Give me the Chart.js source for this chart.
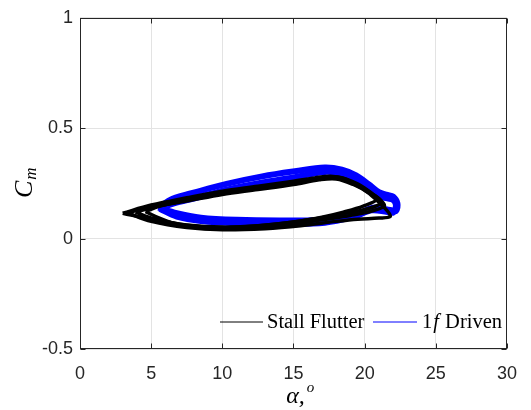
<!DOCTYPE html>
<html>
<head>
<meta charset="utf-8">
<script src="https://cdn.jsdelivr.net/npm/chart.js@4"></script>
<style>
  html, body { margin: 0; padding: 0; background: #fff; }
  #wrap { width: 531px; height: 410px; }
</style>
</head>
<body>
<div id="wrap"><canvas id="cmLoops"></canvas></div>
<script>
// angle of attack (deg) vs. moment coefficient, several overlaid cycles per case
const flutterAlphaA = [3.0, 5.0, 7.5, 10.0, 12.5, 15.0, 16.5, 17.6, 18.6, 19.5, 20.3, 20.9, 19.9, 18.5, 17.0, 15.0, 12.5, 10.0, 7.5, 5.0, 3.0];
const flutterCmA    = [0.115, 0.152, 0.185, 0.215, 0.237, 0.26, 0.275, 0.282, 0.27, 0.24, 0.208, 0.18, 0.147, 0.12, 0.097, 0.075, 0.058, 0.052, 0.062, 0.088, 0.115];
const flutterAlphaB = [3.3, 5.0, 7.5, 10.0, 12.5, 15.0, 16.8, 18.0, 19.2, 20.2, 21.0, 21.6, 21.8, 21.0, 19.5, 18.0, 15.5, 13.0, 10.0, 7.5, 5.0, 3.3];
const flutterCmB    = [0.117, 0.142, 0.17, 0.2, 0.222, 0.245, 0.266, 0.27, 0.245, 0.21, 0.165, 0.125, 0.1, 0.093, 0.088, 0.078, 0.058, 0.045, 0.04, 0.05, 0.078, 0.117];
const flutterAlphaC = [4.6, 5.5, 7.5, 10.0, 12.5, 15.0, 16.6, 17.8, 19.0, 20.0, 20.8, 21.4, 20.5, 19.0, 17.0, 14.5, 12.0, 9.5, 7.0, 5.5, 4.6];
const flutterCmC    = [0.122, 0.145, 0.176, 0.207, 0.23, 0.252, 0.27, 0.276, 0.258, 0.225, 0.19, 0.15, 0.125, 0.105, 0.085, 0.062, 0.048, 0.044, 0.062, 0.095, 0.122];
const flutterAlphaD = [3.9, 5.0, 7.0, 10.0, 12.5, 15.0, 16.8, 18.2, 19.5, 20.5, 21.2, 20.2, 18.5, 16.0, 13.0, 10.0, 7.5, 5.2, 3.9];
const flutterCmD    = [0.12, 0.14, 0.168, 0.208, 0.23, 0.25, 0.272, 0.278, 0.248, 0.205, 0.165, 0.135, 0.112, 0.085, 0.06, 0.05, 0.06, 0.09, 0.12];

const drivenAlphaA = [5.5, 6.5, 8.2, 10.3, 12.8, 15.1, 17.2, 18.4, 19.4, 20.3, 21.0, 21.6, 22.0, 22.3, 22.2, 21.8, 20.6, 19.4, 17.2, 14.0, 11.0, 8.5, 6.8, 5.5];
const drivenCmA    = [0.14, 0.18, 0.212, 0.248, 0.282, 0.305, 0.322, 0.312, 0.286, 0.245, 0.21, 0.198, 0.19, 0.16, 0.125, 0.13, 0.14, 0.11, 0.085, 0.082, 0.085, 0.095, 0.115, 0.14];
const drivenAlphaB = [5.6, 6.6, 8.2, 10.3, 12.8, 15.1, 17.2, 18.4, 19.4, 20.3, 21.0, 21.6, 22.0, 22.2, 22.0, 21.6, 20.5, 19.3, 17.2, 14.0, 11.0, 8.5, 6.8, 5.6];
const drivenCmB    = [0.135, 0.16, 0.185, 0.222, 0.254, 0.278, 0.302, 0.292, 0.264, 0.222, 0.19, 0.182, 0.175, 0.15, 0.118, 0.12, 0.128, 0.1, 0.072, 0.068, 0.07, 0.08, 0.1, 0.135];

const xTicks = [0, 5, 10, 15, 20, 25, 30];
const yTicks = [-0.5, 0, 0.5, 1];

const toPoints = (xs, ys) => xs.map((x, i) => ({ x: x, y: ys[i] }));

const AXIS = '#262626';
const GRID = '#e3e3e3';

// box, inward ticks, legend and axis titles drawn on top
const decorations = {
  id: 'decorations',
  afterDraw(chart) {
    const { ctx, chartArea: a, scales } = chart;
    ctx.save();
    ctx.strokeStyle = AXIS;
    ctx.lineWidth = 1;
    const L = Math.round(a.left) + 0.5, R = Math.round(a.right) - 0.5;
    const T = Math.round(a.top) + 0.5, B = Math.round(a.bottom) - 0.5;
    ctx.strokeRect(L, T, R - L, B - T);
    ctx.beginPath();
    xTicks.forEach(v => {
      const px = Math.round(scales.x.getPixelForValue(v)) + 0.5;
      ctx.moveTo(px, B); ctx.lineTo(px, B - 5);
      ctx.moveTo(px, T); ctx.lineTo(px, T + 5);
    });
    yTicks.forEach(v => {
      const py = Math.round(scales.y.getPixelForValue(v)) + 0.5;
      ctx.moveTo(L, py); ctx.lineTo(L + 5, py);
      ctx.moveTo(R, py); ctx.lineTo(R - 5, py);
    });
    ctx.stroke();

    // legend
    const ly = a.bottom - 27;
    ctx.lineWidth = 1;
    ctx.strokeStyle = '#000';
    ctx.beginPath(); ctx.moveTo(220, ly); ctx.lineTo(263, ly); ctx.stroke();
    ctx.strokeStyle = '#0000ff';
    ctx.beginPath(); ctx.moveTo(373, ly); ctx.lineTo(417, ly); ctx.stroke();
    ctx.fillStyle = '#000';
    ctx.textBaseline = 'alphabetic';
    ctx.textAlign = 'left';
    ctx.font = '20.5px "Liberation Serif"';
    ctx.fillText('Stall Flutter', 267, ly + 6);
    let tx = 422;
    ctx.fillText('1', tx, ly + 6);
    tx += ctx.measureText('1').width + 1;
    ctx.font = 'italic 20.5px "Liberation Serif"';
    ctx.fillText('f', tx, ly + 6);
    tx += ctx.measureText('f').width + 1;
    ctx.font = '20.5px "Liberation Serif"';
    ctx.fillText(' Driven', tx, ly + 6);

    // x title
    const cx = (a.left + a.right) / 2;
    ctx.font = 'italic 24px "Liberation Serif"';
    const w1 = ctx.measureText('α,').width;
    ctx.fillText('α,', cx - w1 / 2 + 2, 403);
    ctx.font = 'italic 15px "Liberation Serif"';
    ctx.fillText('o', cx + w1 / 2 + 4, 392);

    // y title
    ctx.translate(24, (a.top + a.bottom) / 2);
    ctx.rotate(-Math.PI / 2);
    ctx.font = 'italic 26px "Liberation Serif"';
    const wc = ctx.measureText('C').width;
    ctx.fillText('C', -wc / 2 - 6, 8);
    ctx.font = 'italic 17px "Liberation Serif"';
    ctx.fillText('m', wc / 2 - 5, 12);
    ctx.restore();
  }
};

const blackLine = { borderColor: '#000', borderWidth: 3.5 };
const blueLine = { borderColor: '#0000ff', borderWidth: 6 };

new Chart(document.getElementById('cmLoops'), {
  type: 'scatter',
  data: {
    datasets: [
      Object.assign({ label: 'Stall Flutter', data: toPoints(flutterAlphaA, flutterCmA) }, blackLine),
      Object.assign({ label: 'Stall Flutter', data: toPoints(flutterAlphaB, flutterCmB) }, blackLine),
      Object.assign({ label: 'Stall Flutter', data: toPoints(flutterAlphaC, flutterCmC) }, blackLine),
      Object.assign({ label: 'Stall Flutter', data: toPoints(flutterAlphaD, flutterCmD) }, blackLine),
      Object.assign({ label: '1f Driven', data: toPoints(drivenAlphaA, drivenCmA) }, blueLine),
      Object.assign({ label: '1f Driven', data: toPoints(drivenAlphaB, drivenCmB) }, blueLine)
    ].map(d => Object.assign(d, { showLine: true, pointRadius: 0, tension: 0.35, fill: false }))
  },
  options: {
    responsive: true,
    maintainAspectRatio: false,
    animation: false,
    layout: { padding: { left: 0, right: 14, top: 13, bottom: 0 } },
    plugins: { legend: { display: false }, tooltip: { enabled: false } },
    scales: {
      x: {
        min: 0, max: 30,
        afterFit: s => { s.height = 61; },
        afterBuildTicks: s => { s.ticks = xTicks.map(v => ({ value: v })); },
        grid: { color: GRID, drawTicks: false },
        border: { display: false },
        ticks: { padding: 14, color: AXIS, font: { family: 'Liberation Sans', size: 18 } }
      },
      y: {
        min: -0.5, max: 1,
        afterFit: s => { s.width = 80; },
        afterBuildTicks: s => { s.ticks = yTicks.map(v => ({ value: v })); },
        grid: { color: GRID, drawTicks: false },
        border: { display: false },
        ticks: {
          padding: 7, color: AXIS, font: { family: 'Liberation Sans', size: 18 },
          callback: v => String(v)
        }
      }
    }
  },
  plugins: [decorations]
});
</script>
</body>
</html>
